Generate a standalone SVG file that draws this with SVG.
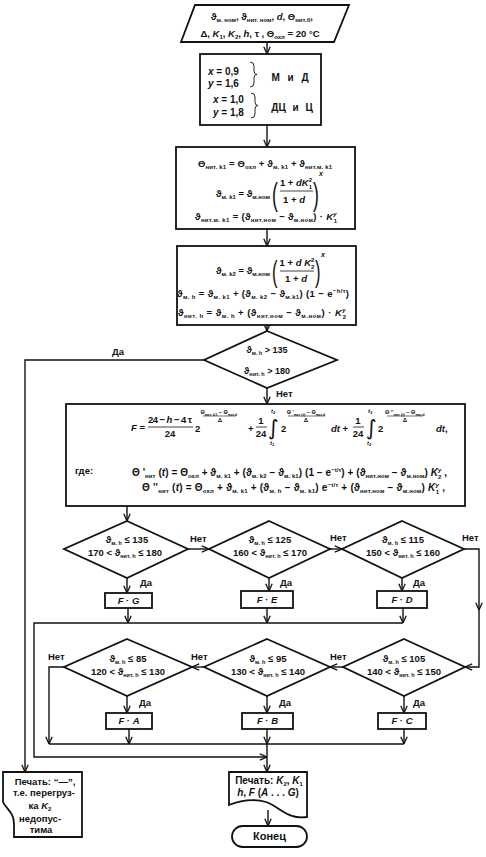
<svg xmlns="http://www.w3.org/2000/svg" width="486" height="857" viewBox="0 0 486 857">
<defs>
<style>
text{font-family:"Liberation Sans","DejaVu Sans",Arial,sans-serif;font-weight:bold;fill:#111;font-size:9.5px}
.s{font-size:6px}
.ss{font-size:3.8px}
.sm{font-size:5.5px}
.f9{font-size:9px}
.f10{font-size:10px}
.lim{font-size:6px;font-style:italic}
.lims{font-size:4px}
.i{font-style:italic}
.lbl{font-size:9.5px}
.big{font-size:10px}
.end{font-size:11px}
.par{font-weight:normal}
.p32{font-size:32px}
.p30{font-size:30px}
.int{font-size:21px;font-weight:normal;font-family:"DejaVu Sans",sans-serif}
.sup{font-size:7px;font-style:italic}
.shape{fill:#fff;stroke:#111;stroke-width:1.8}
.frl{stroke:#111;stroke-width:0.8}
.frs{stroke:#111;stroke-width:0.6}
.con{fill:none;stroke:#111;stroke-width:1.4}
.br{fill:none;stroke:#111;stroke-width:0.9}
</style>
<marker id="arr" viewBox="0 0 10 10" refX="10" refY="5" markerWidth="8" markerHeight="8" markerUnits="userSpaceOnUse" orient="auto"><path d="M1,1 L10,5 L1,9" fill="none" stroke="#111" stroke-width="1.6"/></marker>
</defs>
<rect width="486" height="857" fill="#fff"/>

<g id="connectors">
<path class="con" d="M267,42 V54" marker-end="url(#arr)"/>
<path class="con" d="M267,125 V147" marker-end="url(#arr)"/>
<path class="con" d="M267,229 V246" marker-end="url(#arr)"/>
<path class="con" d="M267,325 V331" marker-end="url(#arr)"/>
<path class="con" d="M267,388 V404" marker-end="url(#arr)"/>
<path class="con" d="M204,360 H25 V772" marker-end="url(#arr)"/>
<path class="con" d="M127,506 V521" marker-end="url(#arr)"/>
<path class="con" d="M188,549 H209" marker-end="url(#arr)"/>
<path class="con" d="M330,549 H342" marker-end="url(#arr)"/>
<path class="con" d="M464,549 H479 V610" marker-end="url(#arr)"/>
<path class="con" d="M479,608 V667 H465" marker-end="url(#arr)"/>
<path class="con" d="M127,578 V593" marker-end="url(#arr)"/>
<path class="con" d="M269,578 V591" marker-end="url(#arr)"/>
<path class="con" d="M402,578 V591" marker-end="url(#arr)"/>
<path class="con" d="M128,608 V623" marker-end="url(#arr)"/>
<path class="con" d="M267,608 V623" marker-end="url(#arr)"/>
<path class="con" d="M403,608 V623" marker-end="url(#arr)"/>
<path class="con" d="M403,623 H34 V757 H267" marker-end="url(#arr)"/>
<path class="con" d="M343,667 H330" marker-end="url(#arr)"/>
<path class="con" d="M204,667 H192" marker-end="url(#arr)"/>
<path class="con" d="M64,667 H49 V744" marker-end="url(#arr)"/>
<path class="con" d="M127,696 V713" marker-end="url(#arr)"/>
<path class="con" d="M267,696 V713" marker-end="url(#arr)"/>
<path class="con" d="M404,696 V713" marker-end="url(#arr)"/>
<path class="con" d="M129,729 V744" marker-end="url(#arr)"/>
<path class="con" d="M267,729 V744" marker-end="url(#arr)"/>
<path class="con" d="M404,729 V744" marker-end="url(#arr)"/>
<path class="con" d="M49,744 H404"/>
<path class="con" d="M267,744 V772" marker-end="url(#arr)"/>
<path class="con" d="M268,810 V826" marker-end="url(#arr)"/>
<text class="lbl" x="112" y="355">Да</text>
<text class="lbl" x="276" y="397">Нет</text>
<text class="lbl" x="190" y="542">Нет</text>
<text class="lbl" x="330" y="541">Нет</text>
<text class="lbl" x="462" y="541">Нет</text>
<text class="lbl" x="140" y="586">Да</text>
<text class="lbl" x="280" y="586">Да</text>
<text class="lbl" x="413" y="586">Да</text>
<text class="lbl" x="48" y="660">Нет</text>
<text class="lbl" x="191" y="660">Нет</text>
<text class="lbl" x="330" y="660">Нет</text>
<text class="lbl" x="139" y="706">Да</text>
<text class="lbl" x="279" y="706">Да</text>
<text class="lbl" x="413" y="706">Да</text>
</g>

<g id="input">
<polygon class="shape" points="195,5 349,5 334,42 181,42"/>
<text x="262" y="20" text-anchor="middle">ϑ<tspan class="s" dy="2">м. ном</tspan><tspan dy="-2">, ϑ</tspan><tspan class="s" dy="2">нит. ном</tspan><tspan dy="-2">, </tspan><tspan class="i">d</tspan>, Θ<tspan class="s" dy="2">нит.б</tspan><tspan dy="-2">,</tspan></text>
<text x="260" y="37" text-anchor="middle">Δ, <tspan class="i">K</tspan><tspan class="s" dy="2">1</tspan><tspan dy="-2">, </tspan><tspan class="i">K</tspan><tspan class="s" dy="2">2</tspan><tspan dy="-2">, </tspan><tspan class="i">h</tspan>, τ ,  Θ<tspan class="s" dy="2">охл</tspan><tspan dy="-2"> = 20 °C</tspan></text>
</g>

<g id="coefficients">
<rect class="shape" x="200" y="54" width="121" height="71"/>
<text class="big i" x="208" y="75">x<tspan style="font-style:normal"> = 0,9</tspan></text>
<text class="big i" x="208" y="87">y<tspan style="font-style:normal"> = 1,6</tspan></text>
<path class="br" d="M250,62 Q254,62 254,66 V71 Q254,74.5 257,74.5 Q254,74.5 254,78 V83 Q254,87 250,87"/>
<text class="big" x="290" y="81" text-anchor="middle" word-spacing="5">М и Д</text>
<text class="big i" x="213" y="103">x<tspan style="font-style:normal"> = 1,0</tspan></text>
<text class="big i" x="213" y="116">y<tspan style="font-style:normal"> = 1,8</tspan></text>
<path class="br" d="M251,93 Q255,93 255,97 V102 Q255,105.5 258,105.5 Q255,105.5 255,109 V114 Q255,118 251,118"/>
<text class="big" x="292" y="111" text-anchor="middle" word-spacing="4">ДЦ и Ц</text>
</g>

<g id="calc-k1">
<rect class="shape" x="176" y="147" width="179" height="82"/>
<text x="265" y="167" text-anchor="middle" textLength="134">Θ<tspan class="s" dy="2">нит. k1</tspan><tspan dy="-2"> = Θ</tspan><tspan class="s" dy="2">охл</tspan><tspan dy="-2"> + ϑ</tspan><tspan class="s" dy="2">м. k1</tspan><tspan dy="-2"> + ϑ</tspan><tspan class="s" dy="2">нит.м. k1</tspan></text>
<text x="270" y="197" text-anchor="end">ϑ<tspan class="s" dy="2">м. k1</tspan><tspan dy="-2"> = ϑ</tspan><tspan class="s" dy="2">м.ном</tspan></text>
<text class="par p32" transform="translate(272,205) scale(0.55,1)">(</text>
<text x="296" y="186" text-anchor="middle">1 + <tspan class="i">dK</tspan><tspan class="s" dy="-4">2</tspan><tspan class="s" dx="-3.4" dy="7">1</tspan></text>
<line class="frl" x1="280" y1="191" x2="313" y2="191"/>
<text x="294" y="203" text-anchor="middle">1 + <tspan class="i">d</tspan></text>
<text class="par p32" transform="translate(313,205) scale(0.55,1)">)</text>
<text class="sup" x="319" y="176">x</text>
<text x="266" y="220" text-anchor="middle" textLength="142">ϑ<tspan class="s" dy="2">нит.м. k1</tspan><tspan dy="-2"> = (ϑ</tspan><tspan class="s" dy="2">нит.ном</tspan><tspan dy="-2"> − ϑ</tspan><tspan class="s" dy="2">м.ном</tspan><tspan dy="-2">) · </tspan><tspan class="i">K</tspan><tspan class="s i" dy="-4">y</tspan><tspan class="s" dx="-3.4" dy="7">1</tspan></text>
</g>

<g id="calc-k2">
<rect class="shape" x="177" y="246" width="179" height="79"/>
<text x="270" y="274" text-anchor="end">ϑ<tspan class="s" dy="2">м. k2</tspan><tspan dy="-2"> = ϑ</tspan><tspan class="s" dy="2">м.ном</tspan></text>
<text class="par p30" transform="translate(272,282) scale(0.55,1)">(</text>
<text x="297" y="266" text-anchor="middle">1 + <tspan class="i">d K</tspan><tspan class="s" dy="-4">2</tspan><tspan class="s" dx="-3.4" dy="7">2</tspan></text>
<line class="frl" x1="280" y1="271" x2="314" y2="271"/>
<text x="296" y="282" text-anchor="middle">1 + <tspan class="i">d</tspan></text>
<text class="par p30" transform="translate(315,282) scale(0.55,1)">)</text>
<text class="sup" x="321" y="257">x</text>
<text x="263" y="297" text-anchor="middle" textLength="172">ϑ<tspan class="s" dy="2">м. h</tspan><tspan dy="-2"> = ϑ</tspan><tspan class="s" dy="2">м. k1</tspan><tspan dy="-2"> + (ϑ</tspan><tspan class="s" dy="2">м. k2</tspan><tspan dy="-2"> − ϑ</tspan><tspan class="s" dy="2">м.k1</tspan><tspan dy="-2">) (1 − e</tspan><tspan class="s" dy="-4">−h/τ</tspan><tspan dy="4">)</tspan></text>
<text x="262" y="316" text-anchor="middle" textLength="168">ϑ<tspan class="s" dy="2">нит. h</tspan><tspan dy="-2"> = ϑ</tspan><tspan class="s" dy="2">м. h</tspan><tspan dy="-2"> + (ϑ</tspan><tspan class="s" dy="2">нит.ном</tspan><tspan dy="-2"> − ϑ</tspan><tspan class="s" dy="2">м.ном</tspan><tspan dy="-2">) · </tspan><tspan class="i">K</tspan><tspan class="s i" dy="-4">y</tspan><tspan class="s" dx="-3.4" dy="7">2</tspan></text>
</g>

<g id="check-overload">
<polygon class="shape" points="267,331 337,360 267,388 204,360"/>
<text class="f9" x="267" y="353" text-anchor="middle">ϑ<tspan class="sm" dy="2">м. h</tspan><tspan dy="-2"> &gt; 135</tspan></text>
<text class="f9" x="267" y="374" text-anchor="middle">ϑ<tspan class="sm" dy="2">нит. h</tspan><tspan dy="-2"> &gt; 180</tspan></text>
</g>

<g id="calc-F">
<rect class="shape" x="66" y="404" width="399" height="102"/>
<text x="131" y="431"><tspan class="i">F</tspan> =</text>
<text x="170" y="423" text-anchor="middle" textLength="44">24 − <tspan class="i">h</tspan> − 4 τ</text>
<line class="frl" x1="148" y1="427" x2="193" y2="427"/>
<text x="170" y="437" text-anchor="middle">24</text>
<text x="195" y="432">2</text>
<text class="sm" x="219" y="414" text-anchor="middle">Θ<tspan class="ss" dy="1.5">нит. k1</tspan><tspan dy="-1.5"> − Θ</tspan><tspan class="ss" dy="1.5">нит.б</tspan></text>
<line class="frs" x1="203" y1="416" x2="236" y2="416"/>
<text class="s" x="220" y="422" text-anchor="middle">Δ</text>
<text x="248" y="432">+</text>
<text x="261" y="424" text-anchor="middle">1</text>
<line class="frl" x1="256" y1="427" x2="267" y2="427"/>
<text x="261" y="437" text-anchor="middle">24</text>
<text class="int" x="268" y="435">∫</text>
<text class="lim" x="271" y="413">t<tspan class="lims" dy="1">2</tspan></text>
<text class="lim" x="270" y="445">t<tspan class="lims" dy="1">1</tspan></text>
<text x="281" y="432">2</text>
<text class="sm" x="306" y="414" text-anchor="middle">Θ '<tspan class="ss" dy="1.5">нит (t)</tspan><tspan dy="-1.5"> − Θ</tspan><tspan class="ss" dy="1.5">нит.б</tspan></text>
<line class="frs" x1="288" y1="416" x2="325" y2="416"/>
<text class="s" x="306" y="422" text-anchor="middle">Δ</text>
<text x="331" y="432"><tspan class="i">dt</tspan> +</text>
<text x="358" y="424" text-anchor="middle">1</text>
<line class="frl" x1="353" y1="427" x2="364" y2="427"/>
<text x="358" y="437" text-anchor="middle">24</text>
<text class="int" x="366" y="435">∫</text>
<text class="lim" x="368" y="413">t<tspan class="lims" dy="1">3</tspan></text>
<text class="lim" x="367" y="445">t<tspan class="lims" dy="1">2</tspan></text>
<text x="378" y="432">2</text>
<text class="sm" x="405" y="414" text-anchor="middle">Θ ''<tspan class="ss" dy="1.5">нит (t)</tspan><tspan dy="-1.5"> − Θ</tspan><tspan class="ss" dy="1.5">нит.б</tspan></text>
<line class="frs" x1="387" y1="416" x2="423" y2="416"/>
<text class="s" x="405" y="422" text-anchor="middle">Δ</text>
<text x="436" y="432"><tspan class="i">dt</tspan>,</text>
<text x="75" y="474">где:</text>
<text class="f10" x="132" y="476" textLength="315">Θ '<tspan class="s" dy="2">нит</tspan><tspan dy="-2"> (</tspan><tspan class="i">t</tspan>) = Θ<tspan class="s" dy="2">охл</tspan><tspan dy="-2"> + ϑ</tspan><tspan class="s" dy="2">м. k1</tspan><tspan dy="-2"> + (ϑ</tspan><tspan class="s" dy="2">м. k2</tspan><tspan dy="-2"> − ϑ</tspan><tspan class="s" dy="2">м. k1</tspan><tspan dy="-2">) (1 − e</tspan><tspan class="s" dy="-4">−t/τ</tspan><tspan dy="4">) + (ϑ</tspan><tspan class="s" dy="2">нит.ном</tspan><tspan dy="-2"> − ϑ</tspan><tspan class="s" dy="2">м.ном</tspan><tspan dy="-2">) </tspan><tspan class="i">K</tspan><tspan class="s i" dy="-4">y</tspan><tspan class="s" dx="-3.4" dy="7">2</tspan><tspan dy="-3"> ,</tspan></text>
<text class="f10" x="142" y="491" textLength="303">Θ ''<tspan class="s" dy="2">нит</tspan><tspan dy="-2"> (</tspan><tspan class="i">t</tspan>) = Θ<tspan class="s" dy="2">охл</tspan><tspan dy="-2"> + ϑ</tspan><tspan class="s" dy="2">м. k1</tspan><tspan dy="-2"> + (ϑ</tspan><tspan class="s" dy="2">м. h</tspan><tspan dy="-2"> − ϑ</tspan><tspan class="s" dy="2">м. k1</tspan><tspan dy="-2">) e</tspan><tspan class="s" dy="-4">−t/τ</tspan><tspan dy="4"> + (ϑ</tspan><tspan class="s" dy="2">нит.ном</tspan><tspan dy="-2"> − ϑ</tspan><tspan class="s" dy="2">м.ном</tspan><tspan dy="-2">) </tspan><tspan class="i">K</tspan><tspan class="s i" dy="-4">y</tspan><tspan class="s" dx="-3.4" dy="7">1</tspan><tspan dy="-3"> ,</tspan></text>
</g>

<g id="dec-G">
<polygon class="shape" points="127,521 188,549 127,578 64,549"/>
<text x="127" y="543" text-anchor="middle">ϑ<tspan class="sm" dy="2">м. h</tspan><tspan dy="-2"> ≤ 135</tspan></text>
<text x="125" y="556" text-anchor="middle">170 &lt; ϑ<tspan class="sm" dy="2">нит. h</tspan><tspan dy="-2"> ≤ 180</tspan></text>
</g>
<g id="dec-E">
<polygon class="shape" points="269,521 330,549 269,578 209,549"/>
<text x="270" y="543" text-anchor="middle">ϑ<tspan class="sm" dy="2">м. h</tspan><tspan dy="-2"> ≤ 125</tspan></text>
<text x="270" y="556" text-anchor="middle">160 &lt; ϑ<tspan class="sm" dy="2">нит. h</tspan><tspan dy="-2"> ≤ 170</tspan></text>
</g>
<g id="dec-D">
<polygon class="shape" points="402,521 464,549 402,578 342,549"/>
<text x="403" y="543" text-anchor="middle">ϑ<tspan class="sm" dy="2">м. h</tspan><tspan dy="-2"> ≤ 115</tspan></text>
<text x="403" y="556" text-anchor="middle">150 &lt; ϑ<tspan class="sm" dy="2">нит. h</tspan><tspan dy="-2"> ≤ 160</tspan></text>
</g>
<g id="box-FG"><rect class="shape" x="105" y="593" width="47" height="15"/><text x="128.5" y="604" text-anchor="middle"><tspan class="i">F</tspan> · <tspan class="i">G</tspan></text></g>
<g id="box-FE"><rect class="shape" x="241" y="591" width="52" height="17"/><text x="267" y="603" text-anchor="middle"><tspan class="i">F</tspan> · <tspan class="i">E</tspan></text></g>
<g id="box-FD"><rect class="shape" x="377" y="591" width="50" height="17"/><text x="402" y="603" text-anchor="middle"><tspan class="i">F</tspan> · <tspan class="i">D</tspan></text></g>

<g id="dec-A">
<polygon class="shape" points="127,639 192,667 127,696 64,667"/>
<text x="128" y="662" text-anchor="middle">ϑ<tspan class="sm" dy="2">м. h</tspan><tspan dy="-2"> ≤ 85</tspan></text>
<text x="128" y="675" text-anchor="middle">120 &lt; ϑ<tspan class="sm" dy="2">нит. h</tspan><tspan dy="-2"> ≤ 130</tspan></text>
</g>
<g id="dec-B">
<polygon class="shape" points="267,639 330,667 267,696 204,667"/>
<text x="268" y="662" text-anchor="middle">ϑ<tspan class="sm" dy="2">м. h</tspan><tspan dy="-2"> ≤ 95</tspan></text>
<text x="268" y="675" text-anchor="middle">130 &lt; ϑ<tspan class="sm" dy="2">нит. h</tspan><tspan dy="-2"> ≤ 140</tspan></text>
</g>
<g id="dec-C">
<polygon class="shape" points="404,639 465,667 404,696 343,667"/>
<text x="404" y="662" text-anchor="middle">ϑ<tspan class="sm" dy="2">м. h</tspan><tspan dy="-2"> ≤ 105</tspan></text>
<text x="404" y="675" text-anchor="middle">140 &lt; ϑ<tspan class="sm" dy="2">нит. h</tspan><tspan dy="-2"> ≤ 150</tspan></text>
</g>
<g id="box-FA"><rect class="shape" x="106" y="713" width="46" height="16"/><text x="129" y="724" text-anchor="middle"><tspan class="i">F</tspan> · <tspan class="i">A</tspan></text></g>
<g id="box-FB"><rect class="shape" x="242" y="713" width="51" height="16"/><text x="267.5" y="724" text-anchor="middle"><tspan class="i">F</tspan> · <tspan class="i">B</tspan></text></g>
<g id="box-FC"><rect class="shape" x="378" y="713" width="48" height="16"/><text x="402" y="724" text-anchor="middle"><tspan class="i">F</tspan> · <tspan class="i">C</tspan></text></g>

<g id="print-overload">
<path class="shape" d="M3,772 H82 V837 H14 V824 C14,812 6,809 3,802 Z"/>
<text x="45" y="785" text-anchor="middle">Печать: “—”,</text>
<text x="44" y="796" text-anchor="middle">т.е. перегруз-</text>
<text x="40" y="809" text-anchor="middle">ка <tspan class="i">K</tspan><tspan class="s" dy="2">2</tspan></text>
<text x="40" y="822" text-anchor="middle">недопус-</text>
<text x="41" y="833" text-anchor="middle">тима</text>
</g>

<g id="print-result">
<path class="shape" d="M229,772 H307 V817 C288,820 280,807 266,802 C252,798 239,801 229,805 Z"/>
<text class="f10" x="269" y="784" text-anchor="middle">Печать: <tspan class="i">K</tspan><tspan class="s" dy="2">2</tspan><tspan dy="-2">, </tspan><tspan class="i">K</tspan><tspan class="s" dy="2">1</tspan></text>
<text class="f10" x="268" y="796" text-anchor="middle"><tspan class="i">h</tspan>, <tspan class="i">F</tspan> (<tspan class="i">A</tspan> . . . <tspan class="i">G</tspan>)</text>
</g>

<g id="end">
<rect class="shape" x="232" y="826" width="75" height="21" rx="10.5"/>
<text class="end" x="269.5" y="840" text-anchor="middle">Конец</text>
</g>
</svg>
